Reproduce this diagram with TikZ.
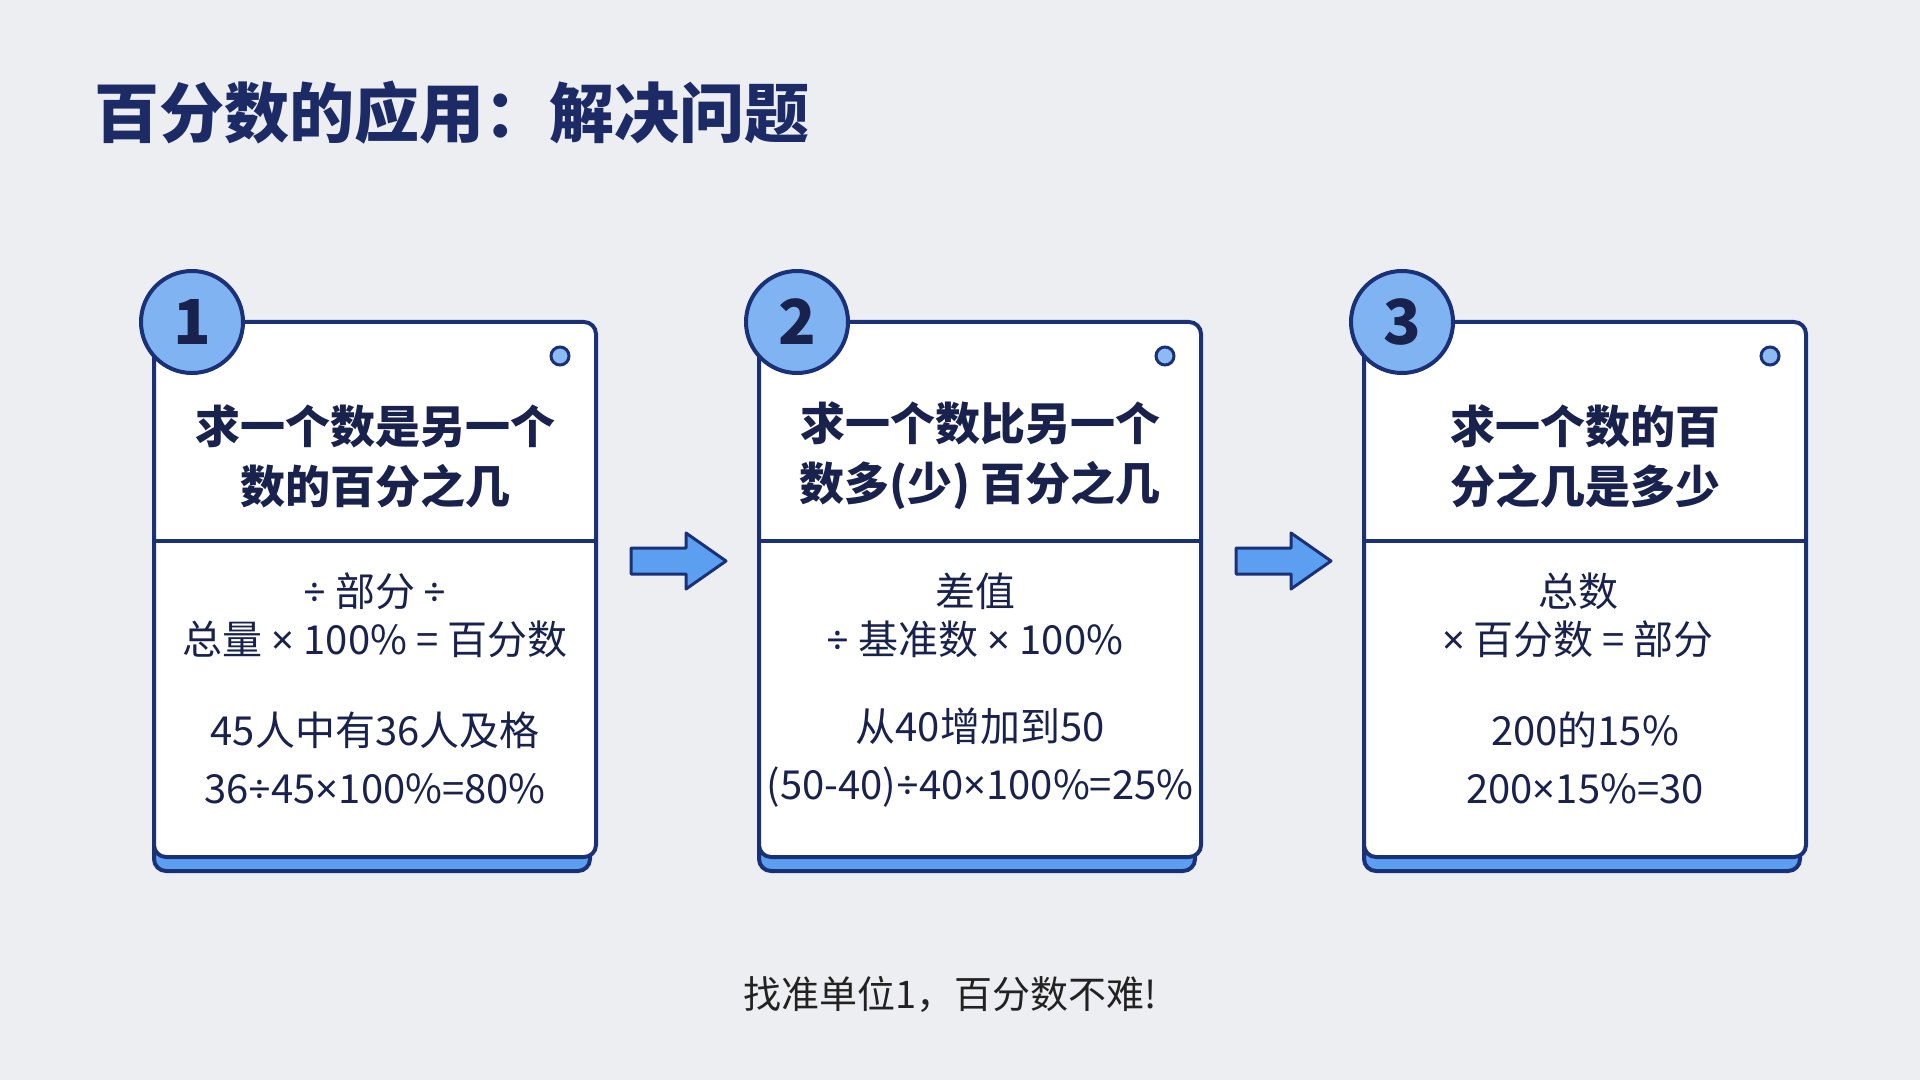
\documentclass[tikz,border=0pt]{standalone}
\usepackage{fontspec}
\newfontfamily\cjk{Noto Sans CJK SC}
\newfontfamily\latf{Noto Sans}
\newcommand\xtm{{\latf ×}}
\newcommand\xdv{{\latf ÷}}
\definecolor{bgc}{HTML}{ECEEF1}
\definecolor{navy}{HTML}{1B3177}
\definecolor{titlec}{HTML}{1C2B66}
\definecolor{textc}{HTML}{18224D}
\definecolor{circc}{HTML}{80B3F2}
\definecolor{shadc}{HTML}{5C9EF0}
\definecolor{dotc}{HTML}{8CBAF3}
\definecolor{footc}{HTML}{222222}
\tikzset{
  card/.style={draw=navy, line width=2pt, fill=white, rounded corners=6pt,
    minimum width=221pt, minimum height=267.5pt, inner sep=0pt},
  cardshadow/.style={draw=navy, line width=2pt, fill=shadc, rounded corners=6pt},
  cardline/.style={draw=navy, line width=2pt},
  numcirc/.style={circle, draw=navy, line width=2pt, fill=circc, minimum size=51pt,
    inner sep=0pt, text=textc, font=\cjk\bfseries\fontsize{31}{31}\selectfont},
  dotnode/.style={circle, draw=navy, line width=1.5pt, fill=dotc, minimum size=9pt, inner sep=0pt},
  headtext/.style={align=center, text=textc, inner sep=0pt, font=\cjk\bfseries\fontsize{22.5}{30}\selectfont},
  formtext/.style={align=center, text=textc, inner sep=0pt, font=\cjk\fontsize{20}{24}\selectfont},
  extext/.style={align=center, text=textc, inner sep=0pt, font=\cjk\fontsize{20}{29}\selectfont},
  blockarrow/.style={draw=navy, line width=1.5pt, fill=shadc, line join=round},
}
\begin{document}
\begin{tikzpicture}[x=0.5pt, y=-0.5pt]
\useasboundingbox (0,0) rectangle (1920,1080);
\fill[bgc] (0,0) rectangle (1920,1080);

\node[anchor=west, text=titlec, inner sep=0pt, font=\cjk\bfseries\fontsize{32.5}{34}\selectfont] (title) at (94,113) {百分数的应用：解决问题};

\foreach \i/\cx in {1/375, 2/980, 3/1585} {
  \draw[cardshadow] (\cx-221,336) rectangle (\cx+215,871);
  \node[card] (c\i) at (\cx,589.5) {};
  \draw[cardline] (\cx-221,541) -- (\cx+221,541);
  \node[dotnode] (d\i) at (\cx+185,356) {};
  \node[numcirc] (n\i) at (\cx-183,322) {\i};
}

\node[headtext] (h1) at (375,456) {求一个数是另一个\\数的百分之几};
\node[headtext] (h2) at (980,456) {求一个数比另一个\\数多(少) 百分之几};
\node[headtext] (h3) at (1585,456) {求一个数的百\\分之几是多少};

\node[formtext] (f1) at (375,615) {\xdv{} 部分 \xdv\\总量 \xtm{} 100\% = 百分数};
\node[formtext] (f2) at (975,615) {差值\\\xdv{} 基准数 \xtm{} 100\%};
\node[formtext] (f3) at (1578,615) {总数\\\xtm{} 百分数 = 部分};

\node[extext] (e1) at (375,758) {45人中有36人及格\\36\xdv{}45\xtm{}100\%=80\%};
\node[extext] (e2) at (980,758) {从40增加到50\\(50-40)\xdv{}40\xtm{}100\%=25\%};
\node[extext] (e3) at (1585,758) {200的15\%\\200\xtm{}15\%=30};

\coordinate (a1) at (631,561);
\coordinate (a2) at (1236,561);
\foreach \a in {a1,a2} {
  \draw[blockarrow, shift={(\a)}] (0,-13) -- (55,-13) -- (55,-28) -- (95,0) -- (55,28) -- (55,13) -- (0,13) -- cycle;
}

\node[text=footc, inner sep=0pt, font=\cjk\fontsize{19}{20}\selectfont] (foot) at (950,994) {找准单位1，百分数不难!};
\end{tikzpicture}
\end{document}
